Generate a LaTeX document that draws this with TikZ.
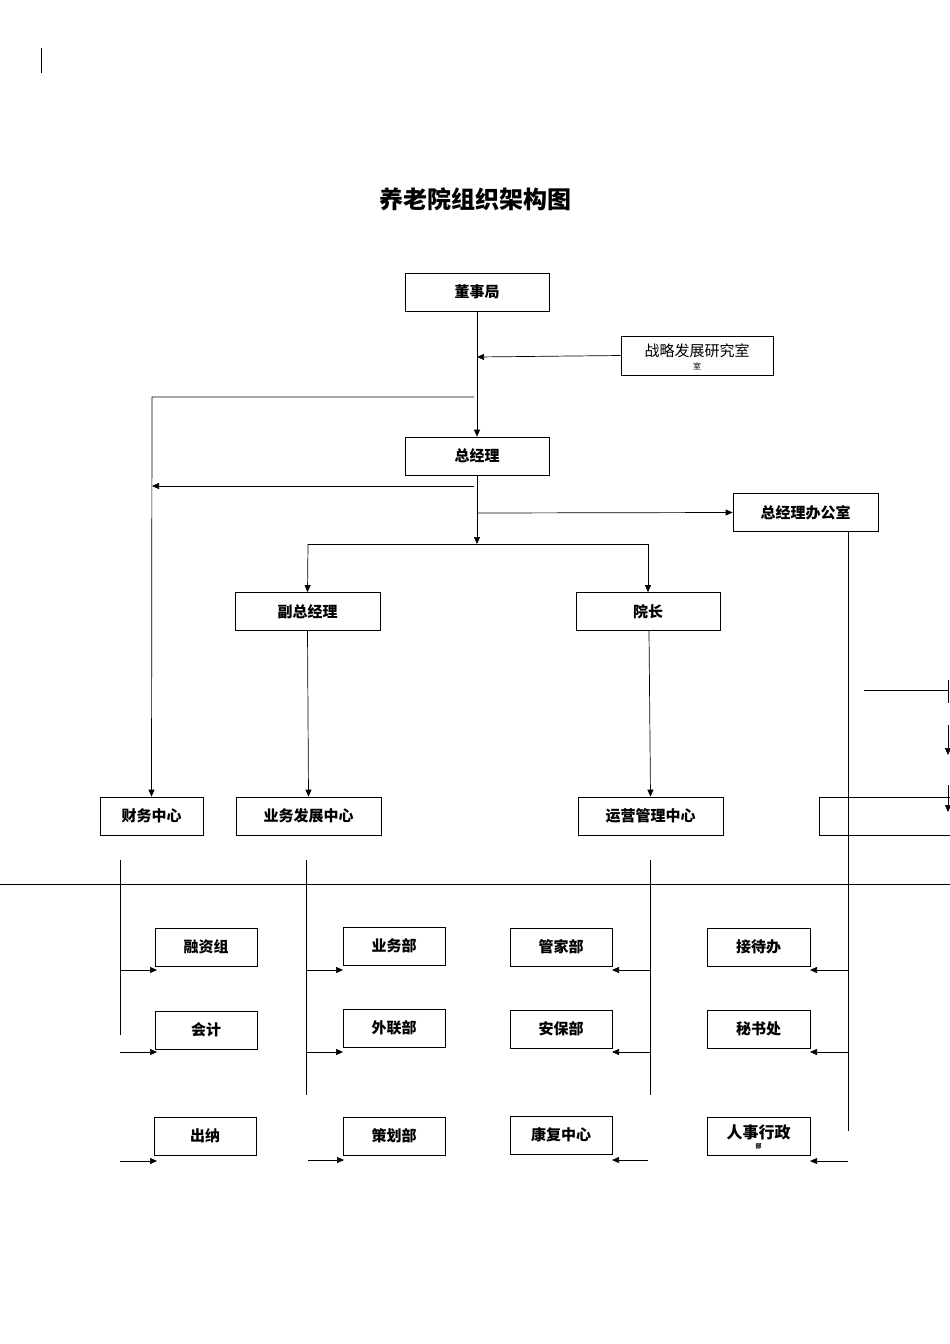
\documentclass[tikz,border=0pt]{standalone}
\usepackage{fontspec}
\newfontfamily\cjk{Noto Sans CJK SC}
\usetikzlibrary{arrows.meta}
\begin{document}
\begin{tikzpicture}[x=1pt,y=-1pt,
  box/.style={draw,line width=0.7pt,minimum height=38pt,inner sep=0pt,font=\cjk\bfseries\fontsize{15}{15}\selectfont},
  ln/.style={line width=0.7pt},
  ar/.style={line width=0.7pt,-{Triangle[length=7pt,width=6pt]}}]
\useasboundingbox (0,0) rectangle (950,1344);
\draw[ln] (41,48) -- (41,73);
\node[font=\cjk\bfseries\fontsize{24}{24}\selectfont] (title) at (475,199) {养老院组织架构图};
\node[box,minimum width=144pt] (dsj) at (477,292) {董事局};
\node[draw,line width=0.7pt,minimum width=152pt,minimum height=39pt,inner sep=0pt] (zl) at (697,355.5) {};
\node[font=\cjk\fontsize{15}{15}\selectfont] (zlt) at (697,351) {战略发展研究室};
\node[font=\cjk\fontsize{8}{8}\selectfont] (zlt2) at (697,366) {室};
\node[box,minimum width=144pt] (zjl) at (477,456) {总经理};
\node[box,minimum width=145pt] (ban) at (805.5,512.5) {总经理办公室};
\node[box,minimum width=145pt] (fzjl) at (307.5,611.5) {副总经理};
\node[box,minimum width=144pt] (yz) at (648,611.5) {院长};
\node[box,minimum width=103pt] (cw) at (151.5,816) {财务中心};
\node[box,minimum width=145pt] (yw) at (308.5,816) {业务发展中心};
\node[box,minimum width=145pt] (yy) at (650.5,816) {运营管理中心};
\node[box,minimum width=131pt] (empty) at (884.5,816) {};
\coordinate (j1) at (477,357);
\coordinate (j2) at (477,544);
\coordinate (j3) at (477,513);
\draw[ar] (dsj.south) -- (zjl.north);
\draw[ar] (zl.west) -- (j1);
\draw[ar] (474,397) -- (152,397) -- (cw.north);
\draw[ar] (474,486) -- (152,486);
\draw[ar] (zjl.south) -- (j2);
\draw[ar] (j3) -- (ban.west);
\draw[ar] (308,544) -- (fzjl.north);
\draw[ar] (308,544) -- (648,544) -- (yz.north);
\draw[ar] (fzjl.south) -- (yw.north);
\draw[ar] (649,631) -- (yy.north);
\draw[ln] (848,532) -- (848,1131);
\draw[ln] (864,690) -- (948,690);
\draw[ln] (948,680) -- (948,703);
\draw[ar] (948,725) -- (948,755);
\draw[ar] (948,785) -- (948,812);
\draw[ln] (0,884) -- (950,884);
% column 1
\node[box,minimum width=102pt] (rz) at (206,947) {融资组};
\node[box,minimum width=102pt] (kj) at (206,1030) {会计};
\node[box,minimum width=102pt] (cn) at (205,1136) {出纳};
\draw[ln] (120,860) -- (120,1035);
\draw[ar] (120,970) -- (157,970);
\draw[ar] (120,1052) -- (157,1052);
\draw[ar] (120,1161) -- (157,1161);
% column 2
\node[box,minimum width=102pt] (ywb) at (394,946) {业务部};
\node[box,minimum width=102pt] (wl) at (394,1028) {外联部};
\node[box,minimum width=102pt] (ch) at (394,1136) {策划部};
\draw[ln] (306,860) -- (306,1095);
\draw[ar] (306,970) -- (343,970);
\draw[ar] (306,1052) -- (343,1052);
\draw[ar] (308,1160) -- (344,1160);
% column 3
\node[box,minimum width=102pt] (gj) at (561,947) {管家部};
\node[box,minimum width=102pt] (ab) at (561,1029) {安保部};
\node[box,minimum width=102pt] (kf) at (561,1135) {康复中心};
\draw[ln] (650,860) -- (650,1095);
\draw[ar] (650,970) -- (612,970);
\draw[ar] (650,1052) -- (612,1052);
\draw[ar] (648,1160) -- (612,1160);
% column 4
\node[box,minimum width=103pt] (jd) at (758.5,947) {接待办};
\node[box,minimum width=103pt] (ms) at (758.5,1029) {秘书处};
\node[box,minimum width=103pt] (rs) at (758.5,1136) {};
\node[font=\cjk\bfseries\fontsize{16}{16}\selectfont] (rst) at (758.5,1132) {人事行政};
\node[font=\cjk\bfseries\fontsize{6}{6}\selectfont] (rst2) at (758.5,1146) {部};
\draw[ar] (848,970) -- (810,970);
\draw[ar] (848,1052) -- (810,1052);
\draw[ar] (848,1161) -- (810,1161);
\end{tikzpicture}
\end{document}
